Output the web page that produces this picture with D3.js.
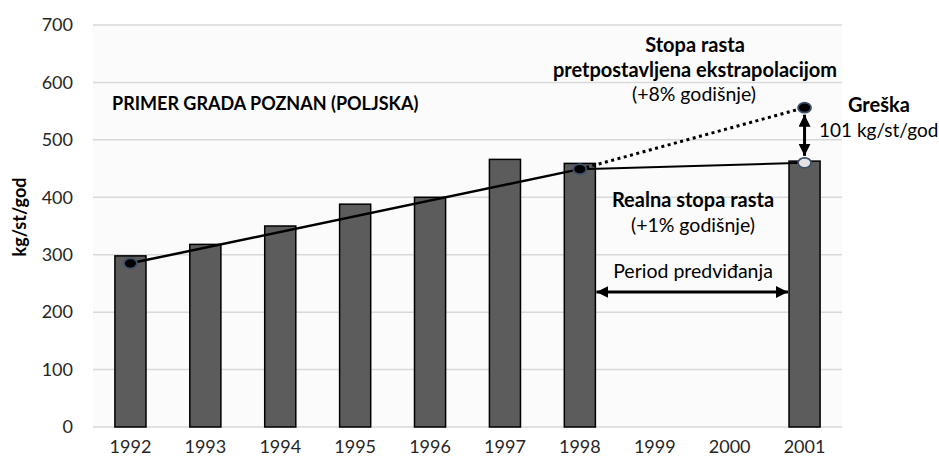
<!DOCTYPE html>
<html><head><meta charset="utf-8">
<script src="https://cdn.jsdelivr.net/npm/d3@7"></script>
<style>
body{margin:0;background:#fff;}
svg{display:block;font-family:Lato,"Open Sans",sans-serif;}
</style></head>
<body><svg id="c" width="939" height="463"></svg>
<script>
const years = ["1992","1993","1994","1995","1996","1997","1998","1999","2000","2001"];
const barValues = [298,318,350,388,400,466,459,null,null,463];
const yTicks = [0,100,200,300,400,500,600,700];
const trendYears = ["1992","1998"];
const trendValues = [285,449];
const realYears = ["1998","2001"];
const realValues = [449,460];
const extrapYears = ["1998","2001"];
const extrapValues = [449,556];

const svg = d3.select("#c");
const m = {l:93, r:842, t:25, b:427};
const x = d3.scaleBand().domain(years).range([m.l,m.r]).paddingInner(0.585).paddingOuter(0.2925);
const y = d3.scaleLinear().domain([0,700]).range([m.b,m.t]);
const cx = d => x(d) + x.bandwidth()/2;

svg.append("rect").attr("x",m.l).attr("y",m.t).attr("width",m.r-m.l).attr("height",m.b-m.t).attr("fill","#fbfbfb");

// grid
svg.append("g").selectAll("line").data(yTicks).join("line")
  .attr("x1",m.l).attr("x2",m.r).attr("y1",d=>y(d)).attr("y2",d=>y(d))
  .attr("stroke","#d9d9d9").attr("stroke-width",1.5);

// y axis
const ya = svg.append("g").attr("transform",`translate(${m.l},0)`)
  .call(d3.axisLeft(y).tickValues(yTicks).tickSize(0).tickPadding(20));
ya.select(".domain").remove();
ya.selectAll("text").attr("font-size",18).attr("fill","#262626").attr("font-family","Lato");

// x axis
const xa = svg.append("g").attr("transform",`translate(0,${m.b})`)
  .call(d3.axisBottom(x).tickSize(0).tickPadding(13));
xa.select(".domain").remove();
xa.selectAll("text").attr("font-size",18).attr("fill","#262626").attr("font-family","Lato");

// y title
svg.append("text").attr("transform","translate(26,217) rotate(-90)")
  .attr("text-anchor","middle").attr("font-weight","bold").attr("font-size",18).attr("fill","#000")
  .text("kg/st/god");

// bars
const bd = years.map((d,i)=>({k:d,v:barValues[i]})).filter(d=>d.v!=null);
svg.append("g").selectAll("rect").data(bd).join("rect")
  .attr("x",d=>x(d.k)).attr("width",x.bandwidth())
  .attr("y",d=>y(d.v)).attr("height",d=>y(0)-y(d.v))
  .attr("fill","#5c5c5c").attr("stroke","#000").attr("stroke-width",1.5);

const line = d3.line().x(d=>cx(d[0])).y(d=>y(d[1]));
const pts = (ks,vs)=>ks.map((k,i)=>[k,vs[i]]);

svg.append("path").attr("d",line(pts(extrapYears,extrapValues))).attr("fill","none")
  .attr("stroke","#000").attr("stroke-width",3).attr("stroke-dasharray","3,3.5");
svg.append("path").attr("d",line(pts(trendYears,trendValues))).attr("fill","none")
  .attr("stroke","#000").attr("stroke-width",2.5);
svg.append("path").attr("d",line(pts(realYears,realValues))).attr("fill","none")
  .attr("stroke","#000").attr("stroke-width",2);

// arrowheads
const defs = svg.append("defs");
defs.append("marker").attr("id","ah").attr("viewBox","0 0 10 10").attr("refX",10).attr("refY",5)
  .attr("markerWidth",4).attr("markerHeight",4).attr("markerUnits","strokeWidth").attr("orient","auto-start-reverse")
  .append("path").attr("d","M0,0 L10,5 L0,10 Z").attr("fill","#000");

// period arrow
const py = 292;
svg.append("line").attr("x1",x("1998")+x.bandwidth()+1).attr("x2",x("2001")-1).attr("y1",py).attr("y2",py)
  .attr("stroke","#000").attr("stroke-width",3)
  .attr("marker-start","url(#ah)").attr("marker-end","url(#ah)");

// error arrow
svg.append("line").attr("x1",cx("2001")).attr("x2",cx("2001"))
  .attr("y1",y(extrapValues[1])+7).attr("y2",y(realValues[1])-7)
  .attr("stroke","#000").attr("stroke-width",3)
  .attr("marker-start","url(#ah)").attr("marker-end","url(#ah)");

// points
const dots = [[trendYears[0],trendValues[0],"#000"],[trendYears[1],trendValues[1],"#000"],
  [extrapYears[1],extrapValues[1],"#000"],[realYears[1],realValues[1],"#e3e3e3"]];
svg.append("g").selectAll("ellipse").data(dots).join("ellipse")
  .attr("cx",d=>cx(d[0])).attr("cy",d=>y(d[1])).attr("rx",6.5).attr("ry",5)
  .attr("fill",d=>d[2]).attr("stroke","#3f5068").attr("stroke-width",1.8);

// annotations
const T = (tx,ty,s,o={})=>svg.append("text").attr("x",tx).attr("y",ty)
  .attr("text-anchor",o.a||"middle").attr("font-size",o.fs||19.5).attr("font-weight",o.b?"bold":"normal")
  .attr("fill","#000").text(s);
T(112,110,"PRIMER GRADA POZNAN (POLJSKA)",{a:"start",b:1,fs:18});
T(695,52,"Stopa rasta",{b:1,fs:20});
T(695,77,"pretpostavljena ekstrapolacijom",{b:1,fs:20});
T(694,101,"(+8% godišnje)");
T(848,112,"Greška",{a:"start",b:1,fs:20});
T(819,137,"101 kg/st/god",{a:"start",fs:19});
T(693,207,"Realna stopa rasta",{b:1,fs:20});
T(693,232,"(+1% godišnje)");
T(693,278,"Period predviđanja");
</script></body></html>
